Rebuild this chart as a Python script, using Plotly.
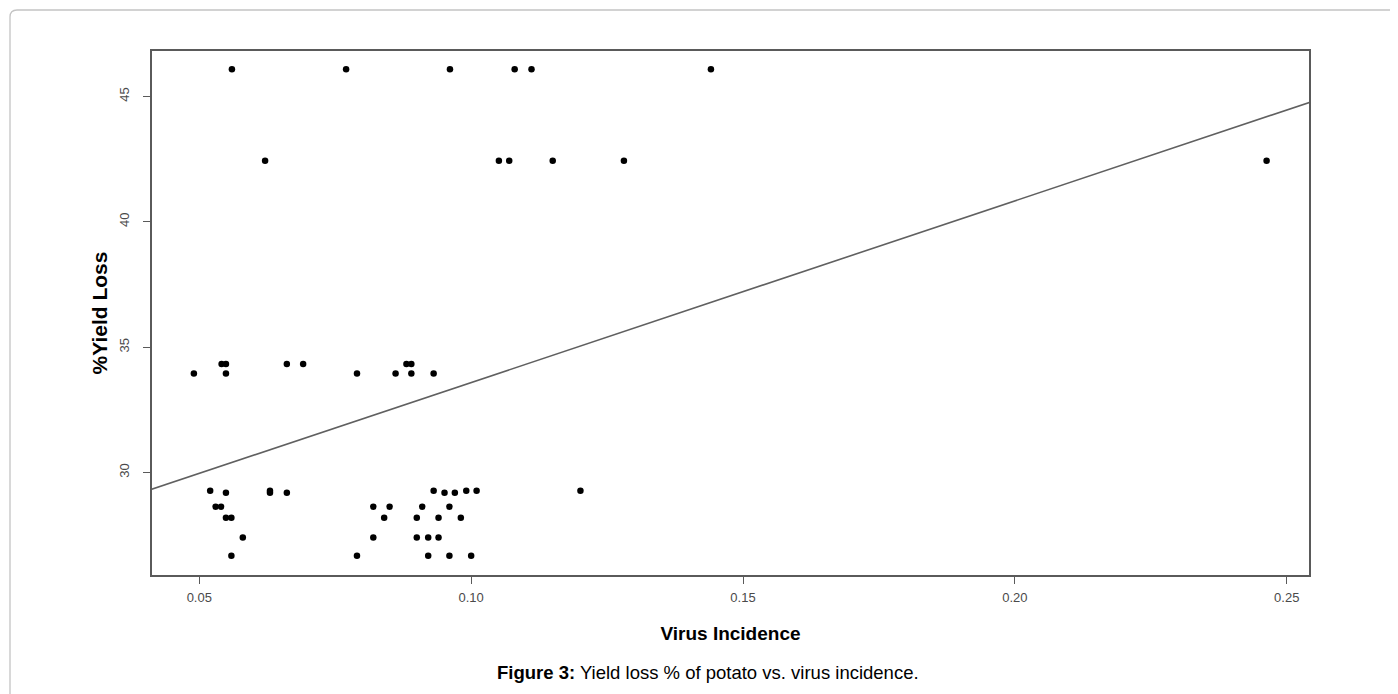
import plotly.graph_objects as go

# Virus incidence (x) and % yield loss (y)
virus_incidence = [
    0.0560, 0.0770, 0.0961, 0.1080, 0.1111, 0.1441,
    0.0621, 0.1051, 0.1070, 0.1150, 0.1281, 0.2463,
    0.0541, 0.0549, 0.0661, 0.0691, 0.0881, 0.0890,
    0.0490, 0.0549, 0.0790, 0.0861, 0.0890, 0.0931,
    0.0520, 0.0630, 0.0931, 0.0991, 0.1010, 0.1201,
    0.0549, 0.0630, 0.0661, 0.0951, 0.0970,
    0.0530, 0.0540, 0.0820, 0.0850, 0.0910, 0.0960,
    0.0549, 0.0559, 0.0840, 0.0900, 0.0940, 0.0981,
    0.0580, 0.0820, 0.0900, 0.0921, 0.0940,
    0.0559, 0.0790, 0.0921, 0.0960, 0.1000,
]
yield_loss = [
    46.08, 46.08, 46.08, 46.08, 46.08, 46.08,
    42.43, 42.43, 42.43, 42.43, 42.43, 42.43,
    34.33, 34.33, 34.33, 34.33, 34.33, 34.33,
    33.95, 33.95, 33.95, 33.95, 33.95, 33.95,
    29.27, 29.27, 29.27, 29.27, 29.27, 29.27,
    29.19, 29.19, 29.19, 29.19, 29.19,
    28.63, 28.63, 28.63, 28.63, 28.63, 28.63,
    28.19, 28.19, 28.19, 28.19, 28.19, 28.19,
    27.41, 27.41, 27.41, 27.41, 27.41,
    26.68, 26.68, 26.68, 26.68, 26.68,
]

# Fitted regression line
fit_intercept = 26.34
fit_slope = 72.46
fit_x = [0.03, 0.27]
fit_y = [fit_intercept + fit_slope * v for v in fit_x]

x_ticks = [0.05, 0.10, 0.15, 0.20, 0.25]
x_tick_text = ["0.05", "0.10", "0.15", "0.20", "0.25"]
y_ticks = [30, 35, 40, 45]

x_range = [0.0413, 0.2541]
y_range = [25.91, 46.81]

AXIS_GREY = "#5a5a5a"
TICK_FONT = dict(family="Liberation Sans, Arial, sans-serif", size=13, color="#4a4a4a")

fig = go.Figure()
fig.add_trace(go.Scatter(
    x=fit_x, y=fit_y, mode="lines",
    line=dict(color="#606060", width=1.6),
    hoverinfo="skip", showlegend=False,
))
fig.add_trace(go.Scatter(
    x=virus_incidence, y=yield_loss, mode="markers",
    marker=dict(color="black", size=6.5),
    showlegend=False,
))

# the page body adds an 8px margin, so the figure is drawn 8px in from the window
OFF = 8
W, H = 1398 - OFF, 694 - OFF
L, T = 152 - OFF, 51 - OFF
R = W - (1309 - OFF)
B = H - (575 - OFF)
pw, ph = W - L - R, H - T - B


def px_x(p):
    return (p - OFF - L) / pw


def px_y(p):
    return (H - B - (p - OFF)) / ph


# rounded outer frame
x0, y0 = px_x(10), px_y(10)
x1, y1 = px_x(1420), px_y(720)
rx, ry = 7 / pw, 7 / ph
frame_path = (f"M {x0},{y1} L {x0},{y0 - ry} Q {x0},{y0} {x0 + rx},{y0} L {x1},{y0}")

fig.update_layout(
    width=W, height=H,
    margin=dict(l=L, r=R, t=T, b=B, autoexpand=False),
    paper_bgcolor="white", plot_bgcolor="white",
    font=dict(family="Liberation Sans, Arial, sans-serif", color="black"),
    xaxis=dict(
        range=x_range, tickvals=x_ticks, ticktext=x_tick_text,
        showgrid=False, zeroline=False,
        showline=True, mirror=True, linecolor=AXIS_GREY, linewidth=1.6,
        ticks="outside", ticklen=7, tickwidth=1.3, tickcolor=AXIS_GREY,
        tickfont=TICK_FONT, ticklabelstandoff=3,
        title=dict(text="<b>Virus Incidence</b>", font=dict(size=19, color="black"), standoff=22),
    ),
    yaxis=dict(
        range=y_range, tickvals=y_ticks,
        showgrid=False, zeroline=False,
        showline=True, mirror=True, linecolor=AXIS_GREY, linewidth=1.6,
        ticks="outside", ticklen=7, tickwidth=1.3, tickcolor=AXIS_GREY,
        tickfont=TICK_FONT, tickangle=-90, ticklabelstandoff=9,
        title=dict(text="<b>%Yield Loss</b>", font=dict(size=21, color="black"), standoff=4),
    ),
    shapes=[dict(
        type="path", xref="paper", yref="paper", path=frame_path,
        line=dict(color="#c4c4c4", width=1.3), layer="below",
    )],
    annotations=[dict(
        xref="paper", yref="paper", x=px_x(708), y=px_y(672),
        xanchor="center", yanchor="middle", showarrow=False,
        text="<b>Figure 3:</b> Yield loss % of potato vs. virus incidence.",
        font=dict(size=18.5, color="black"),
    )],
)

fig.write_html("out.html")
